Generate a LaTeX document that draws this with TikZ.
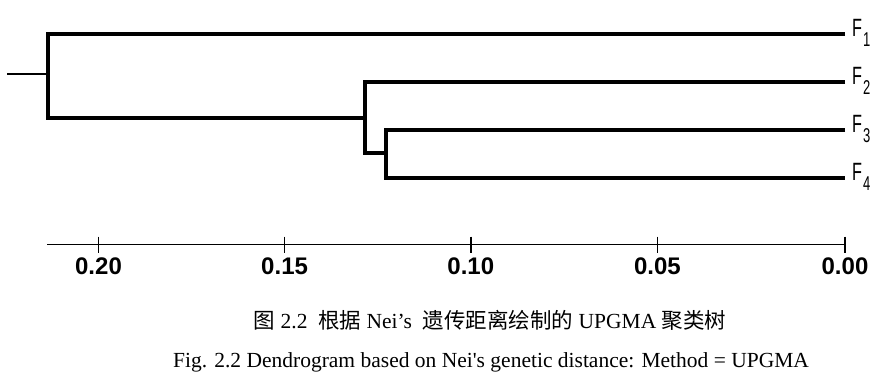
\documentclass[tikz,border=0pt]{standalone}
\usepackage{fontspec}
\setmainfont{Liberation Serif}[Ligatures=TeXOff]
\newfontfamily\cjk{Noto Sans CJK SC}
\newfontfamily\axfont{Liberation Sans}
\newcommand{\leaflabel}[1]{\scalebox{0.65}[1]{\fontsize{25}{25}\axfont F\hspace{1.5pt}\raisebox{-10pt}{\fontsize{20}{20}\selectfont #1}}}
\tikzset{
  branch/.style={line width=3.6pt, line join=miter, line cap=butt},
  thinline/.style={line width=1.6pt},
  leaf/.style={anchor=base west, inner sep=0pt},
  ticklabel/.style={anchor=base, inner sep=0pt, font=\fontsize{24}{24}\axfont\bfseries},
  caption/.style={anchor=base, inner sep=0pt}
}
\begin{document}
\begin{tikzpicture}[x=1pt, y=-1pt]
\useasboundingbox (0,0) rectangle (891,382);
% internal node positions
\coordinate (stub) at (7,74);
\coordinate (r) at (48,74);
\coordinate (rt) at (48,34);
\coordinate (rb) at (48,118);
\coordinate (n2) at (365,118);
\coordinate (n2t) at (365,82);
\coordinate (n2b) at (365,153);
\coordinate (n3) at (386,153);
\coordinate (n3t) at (386,130);
\coordinate (n3b) at (386,178);
\coordinate (e1) at (845,34);
\coordinate (e2) at (845,82);
\coordinate (e3) at (845,130);
\coordinate (e4) at (845,178);
% leaf labels
\node[leaf] (F1) at (852,37) {\leaflabel{1}};
\node[leaf] (F2) at (852,85) {\leaflabel{2}};
\node[leaf] (F3) at (852,133) {\leaflabel{3}};
\node[leaf] (F4) at (852,181) {\leaflabel{4}};
% tree
\draw[thinline] (stub) -- (r);
\draw[branch] (e1) -- (rt) -- (rb) -- (n2);
\draw[branch] (e2) -- (n2t) -- (n2b) -- (n3);
\draw[branch] (e3) -- (n3t) -- (n3b) -- (e4);
% axis
\coordinate (a0) at (47,244.5);
\coordinate (a1) at (845,244.5);
\draw[thinline] (a0) -- (a1);
\foreach \v/\x [count=\i] in {0.20/98.5, 0.15/284.6, 0.10/470.8, 0.05/657.4, 0.00/845} {
  \coordinate (t\i) at (\x,236.5);
  \coordinate (b\i) at (\x,252.5);
  \draw[thinline] (t\i) -- (b\i);
  \node[ticklabel] (l\i) at (\x,274) {\v};
}
% captions
\node[caption] (cap1) at (490,328) {\fontsize{21.5}{21.5}\selectfont{\cjk 图}~2.2~~{\cjk 根据}~Nei’s~~{\cjk 遗传距离绘制的}~UPGMA~{\cjk 聚类树}};
\node[caption] (cap2) at (491,367) {\fontsize{21.5}{21.5}\selectfont Fig. 2.2 Dendrogram based on Nei's genetic distance: Method = UPGMA};
\end{tikzpicture}
\end{document}
